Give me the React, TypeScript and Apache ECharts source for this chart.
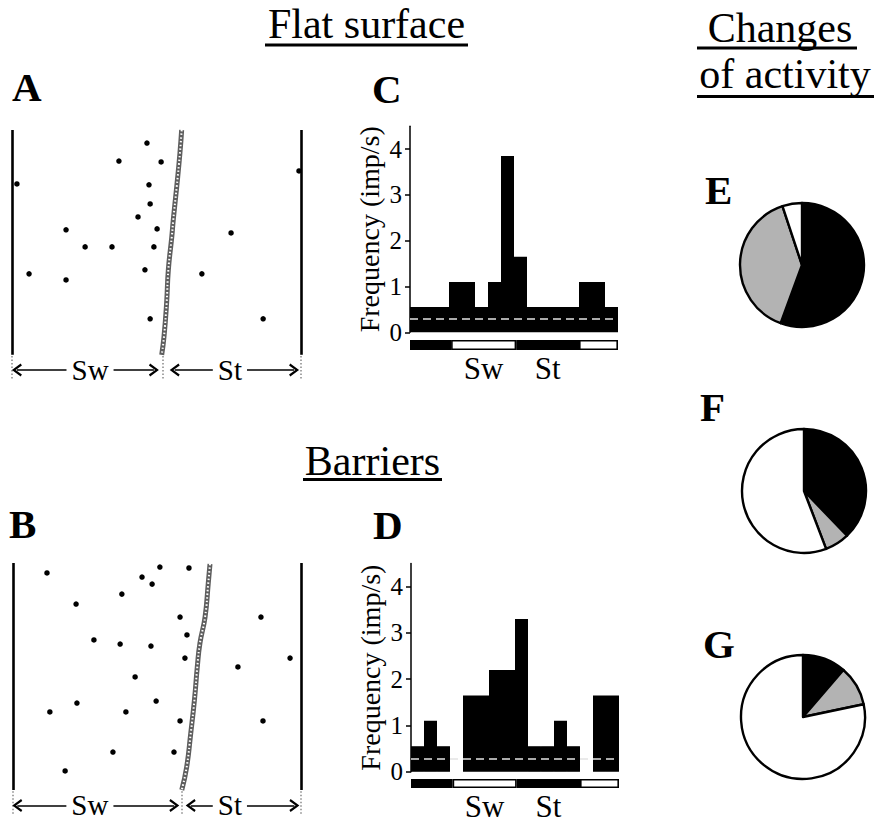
import React, { useEffect, useRef } from 'react';
import * as echarts from 'echarts';

const FONT = '"Liberation Serif", "Times New Roman", Times, serif';

// ---------- Raster A (flat surface): spikes [phase 0..1, trial row 0..100] ----------
const spikesA: number[][] = [
  [0.467, 5.8], [0.370, 13.8], [0.516, 14.2], [0.017, 24.0], [0.474, 24.4], [0.993, 18.2],
  [0.478, 32.9], [0.436, 38.7], [0.187, 44.4], [0.502, 44.0], [0.758, 45.8], [0.253, 52.0],
  [0.346, 52.0], [0.491, 52.0], [0.460, 62.2], [0.059, 64.0], [0.187, 66.7], [0.657, 64.0],
  [0.478, 84.0], [0.869, 84.0],
];
const stanceOnsetA: number[][] = [
  [0.587, 0], [0.581, 10.4], [0.570, 25.2], [0.558, 40], [0.553, 47.4], [0.541, 62.2],
  [0.535, 77], [0.526, 91.9], [0.518, 100],
];
const boundaryA = 0.522;
const arrowsA: number[][] = [[0.017, 0.491], [0.563, 0.976]];
const phaseLabelXA = [0.27, 0.754];

// ---------- Raster B (barriers) ----------
const spikesB: number[][] = [
  [0.118, 4.4], [0.510, 1.8], [0.611, 2.2], [0.448, 6.2], [0.483, 9.3], [0.378, 13.7],
  [0.219, 18.1], [0.580, 23.8], [0.861, 23.8], [0.604, 31.7], [0.281, 33.9], [0.372, 35.7],
  [0.479, 36.6], [0.597, 41.9], [0.962, 41.9], [0.781, 45.8], [0.424, 50.2], [0.497, 60.8],
  [0.222, 61.7], [0.128, 65.6], [0.392, 65.6], [0.580, 69.6], [0.868, 69.6], [0.347, 83.3],
  [0.559, 83.3], [0.181, 91.6],
];
const stanceOnsetB: number[][] = [
  [0.684, 0.4], [0.678, 8.9], [0.667, 23.7], [0.649, 35.4], [0.640, 45.7], [0.630, 60.4],
  [0.617, 75.2], [0.603, 89.9], [0.586, 100],
];
const boundaryB = 0.587;
const arrowsB: number[][] = [[0.015, 0.560], [0.617, 0.977]];
const phaseLabelXB = [0.267, 0.753];

const phaseNames = ['Sw', 'St'];
const arrowRowY = 106.8;

// ---------- Histograms C and D ----------
const histBins = ['1', '2', '3', '4', '5', '6', '7', '8', '9', '10', '11', '12', '13', '14', '15', '16'];
const histC = [0.55, 0.55, 0.55, 1.1, 1.1, 0.55, 1.1, 3.85, 1.65, 0.55, 0.55, 0.55, 0.55, 1.1, 1.1, 0.55];
const histD = [0.55, 1.1, 0.55, 0, 1.65, 1.65, 2.2, 2.2, 3.3, 0.55, 0.55, 1.1, 0.55, 0, 1.65, 1.65];
const baselineC = 0.3;
const baselineD = 0.29;
const freqTicks = [0, 1, 2, 3, 4];
// phase bar segment lengths (in bins): black, white, black, white
const phaseSegC = [3.16, 5.01, 4.83, 3.0];
const phaseSegD = [3.2, 4.93, 4.87, 3.0];
const phaseSegColors = ['#000', '#fff', '#000', '#fff'];

// ---------- Pies E, F, G ----------
const pieNames = ['black', 'grey', 'white'];
const pieColors = ['#000', '#b3b3b3', '#fff'];
const pieE = [55.6, 39.3, 5.1];
const pieF = [37.8, 6.4, 55.8];
const pieG = [11.3, 10.4, 78.3];

const CHEVRON = 'path://M5,0 L10,8.5 L8.5,9.7 L5,3.6 L1.5,9.7 L0,8.5 Z';

function rasterMarkLine(boundary: number, arrows: number[][]) {
  const data: any[] = [];
  [0, 1].forEach((x) => {
    data.push([
      { coord: [x, 0], symbol: 'none', lineStyle: { color: '#000', width: 2.6, type: 'solid' } },
      { coord: [x, 100], symbol: 'none' },
    ]);
  });
  [0, boundary, 1].forEach((x) => {
    data.push([
      { coord: [x, 100.5], symbol: 'none', lineStyle: { color: '#888', width: 1.5, type: [1.5, 2] } },
      { coord: [x, 111], symbol: 'none' },
    ]);
  });
  arrows.forEach((a) => {
    data.push([
      { coord: [a[0], arrowRowY], symbol: CHEVRON, symbolSize: [13, 10], lineStyle: { color: '#000', width: 1.7, type: 'solid' } },
      { coord: [a[1], arrowRowY], symbol: CHEVRON, symbolSize: [13, 10] },
    ]);
  });
  return {
    silent: true,
    animation: false,
    label: { show: false },
    symbol: 'none',
    itemStyle: { color: '#000' },
    data,
  };
}

function rasterSeries(idx: number, spikes: number[][], onset: number[][], boundary: number, arrows: number[][], labelX: number[]) {
  return [
    {
      type: 'scatter',
      xAxisIndex: idx,
      yAxisIndex: idx,
      data: spikes,
      symbolSize: 5.5,
      itemStyle: { color: '#000', opacity: 1 },
      silent: true,
      clip: false,
      markLine: rasterMarkLine(boundary, arrows),
      z: 3,
    },
    {
      type: 'line',
      xAxisIndex: idx,
      yAxisIndex: idx,
      data: onset,
      showSymbol: false,
      smooth: true,
      lineStyle: { color: '#5e5e5e', width: 5 },
      silent: true,
      z: 2,
    },
    {
      type: 'line',
      xAxisIndex: idx,
      yAxisIndex: idx,
      data: onset,
      showSymbol: false,
      smooth: true,
      lineStyle: { color: '#fff', width: 2, type: [1.5, 2.2] },
      silent: true,
      z: 2,
    },
    {
      type: 'scatter',
      xAxisIndex: idx,
      yAxisIndex: idx,
      symbolSize: 0,
      silent: true,
      clip: false,
      z: 6,
      data: phaseNames.map((n, i) => ({ name: n, value: [labelX[i], arrowRowY] })),
      label: {
        show: true,
        position: 'inside',
        formatter: '{b}',
        fontFamily: FONT,
        fontSize: 29,
        lineHeight: 24,
        color: '#000',
        opacity: 1,
        backgroundColor: '#fff',
        padding: [0, 5, 0, 5],
      },
    },
  ];
}

function histYAxis(grid: number) {
  return {
    gridIndex: grid,
    type: 'value',
    min: 0,
    max: 4.5,
    interval: 1,
    axisLine: { show: true, lineStyle: { color: '#000', width: 1.5 } },
    axisTick: { show: true, customValues: freqTicks, length: 5, lineStyle: { color: '#000', width: 1.5 } },
    axisLabel: { customValues: freqTicks, fontFamily: FONT, fontSize: 25, color: '#000', margin: 8 },
    splitLine: { show: false },
    name: 'Frequency (imp/s)',
    nameLocation: 'middle',
    nameGap: 27,
    nameTextStyle: { fontFamily: FONT, fontSize: 28, color: '#000' },
  };
}

function phaseXAxis(grid: number, seg: number[]) {
  const swMid = seg[0] + seg[1] / 2;
  const stMid = seg[0] + seg[1] + seg[2] / 2;
  const vals = [swMid, stMid];
  return {
    gridIndex: grid,
    type: 'value',
    min: 0,
    max: 16,
    axisLine: { show: false },
    axisTick: { show: false },
    splitLine: { show: false },
    axisLabel: {
      customValues: vals,
      formatter: (v: number) => (Math.abs(v - swMid) < 0.01 ? phaseNames[0] : phaseNames[1]),
      fontFamily: FONT,
      fontSize: 31,
      lineHeight: 26,
      color: '#000',
      margin: 5,
    },
  };
}

function histSeries(axis: number, values: number[], baseline: number) {
  return {
    type: 'bar',
    xAxisIndex: axis,
    yAxisIndex: axis,
    data: values.map((v) => ({ value: v, itemStyle: v === 0 ? { borderWidth: 0 } : undefined })),
    barCategoryGap: '0%',
    itemStyle: { color: '#000', borderColor: '#000', borderWidth: 1.2 },
    silent: true,
    markLine: {
      silent: true,
      symbol: 'none',
      label: { show: false },
      lineStyle: { color: '#e4e4e4', width: 1.6, type: [8, 5] },
      data: [{ yAxis: baseline }],
    },
  };
}

function phaseSeries(axis: number, seg: number[], stack: string) {
  return seg.map((v, i) => ({
    type: 'bar',
    xAxisIndex: axis,
    yAxisIndex: axis,
    stack,
    data: [v],
    barWidth: '100%',
    itemStyle: { color: phaseSegColors[i], borderColor: '#000', borderWidth: 1.6 },
    silent: true,
  }));
}

function pieSeries(center: number[], values: number[]) {
  return {
    type: 'pie',
    center,
    radius: 62,
    startAngle: 90,
    clockwise: true,
    silent: true,
    label: { show: false },
    labelLine: { show: false },
    itemStyle: { borderColor: '#000', borderWidth: 2.4 },
    data: pieNames.map((n, i) => ({ name: n, value: values[i], itemStyle: { color: pieColors[i] } })),
  };
}

function titleGroup(text: string, cx: number, midY: number, ulX1: number, ulX2: number, ulY: number) {
  return {
    type: 'group',
    children: [
      {
        type: 'text',
        x: cx,
        y: midY,
        style: { text, fontFamily: FONT, fontSize: 42, fill: '#000', align: 'center', verticalAlign: 'middle' },
      },
      { type: 'rect', shape: { x: ulX1, y: ulY, width: ulX2 - ulX1, height: 3 }, style: { fill: '#000' } },
    ],
  };
}

function letter(t: string, x: number, midY: number) {
  return {
    type: 'text',
    x,
    y: midY,
    style: { text: t, fontFamily: FONT, fontWeight: 'bold', fontSize: 41, fill: '#000', align: 'left', verticalAlign: 'middle' },
  };
}

export default function App() {
  const ref = useRef<HTMLDivElement>(null);
  useEffect(() => {
    if (!ref.current) return;
    const chart = echarts.init(ref.current, undefined, { renderer: 'svg' });
    const option: any = {
      animation: false,
      backgroundColor: '#fff',
      textStyle: { fontFamily: FONT },
      grid: [
        { left: 12, top: 130, width: 289, height: 254 },
        { left: 13, top: 563, width: 288, height: 256.5 },
        { left: 410, top: 126.2, width: 208, height: 206.1 },
        { left: 410, top: 340, width: 208, height: 10 },
        { left: 411, top: 563.6, width: 208, height: 208.1 },
        { left: 411, top: 779, width: 208, height: 9 },
      ],
      xAxis: [
        { gridIndex: 0, type: 'value', min: 0, max: 1, show: false },
        { gridIndex: 1, type: 'value', min: 0, max: 1, show: false },
        { gridIndex: 2, type: 'category', data: histBins, axisLine: { show: false }, axisTick: { show: false }, axisLabel: { show: false } },
        phaseXAxis(3, phaseSegC),
        { gridIndex: 4, type: 'category', data: histBins, axisLine: { show: false }, axisTick: { show: false }, axisLabel: { show: false } },
        phaseXAxis(5, phaseSegD),
      ],
      yAxis: [
        { gridIndex: 0, type: 'value', min: 0, max: 113, inverse: true, show: false },
        { gridIndex: 1, type: 'value', min: 0, max: 113, inverse: true, show: false },
        histYAxis(2),
        { gridIndex: 3, type: 'category', data: ['phase'], show: false },
        histYAxis(4),
        { gridIndex: 5, type: 'category', data: ['phase'], show: false },
      ],
      series: [
        ...rasterSeries(0, spikesA, stanceOnsetA, boundaryA, arrowsA, phaseLabelXA),
        ...rasterSeries(1, spikesB, stanceOnsetB, boundaryB, arrowsB, phaseLabelXB),
        histSeries(2, histC, baselineC),
        ...phaseSeries(3, phaseSegC, 'phaseC'),
        histSeries(4, histD, baselineD),
        ...phaseSeries(5, phaseSegD, 'phaseD'),
        pieSeries([802, 265], pieE),
        pieSeries([804, 491], pieF),
        pieSeries([803, 717], pieG),
      ],
      graphic: [
        titleGroup('Flat surface', 366.5, 24, 265, 468, 43.5),
        titleGroup('Barriers', 372.5, 461, 303, 442, 478),
        titleGroup('Changes', 780, 28, 697, 857, 46.5),
        titleGroup('of activity', 785, 74, 697, 874, 95),
        letter('A', 12, 86.5),
        letter('B', 9, 523.5),
        letter('C', 372, 88.5),
        letter('D', 373, 524.5),
        letter('E', 705, 189.5),
        letter('F', 700, 406.5),
        letter('G', 703, 643.5),
      ],
    };
    chart.setOption(option);
    return () => chart.dispose();
  }, []);
  return (
    <div
      ref={ref}
      style={{ position: 'absolute', left: 0, top: 0, width: 874, height: 823, background: '#fff' }}
    />
  );
}
